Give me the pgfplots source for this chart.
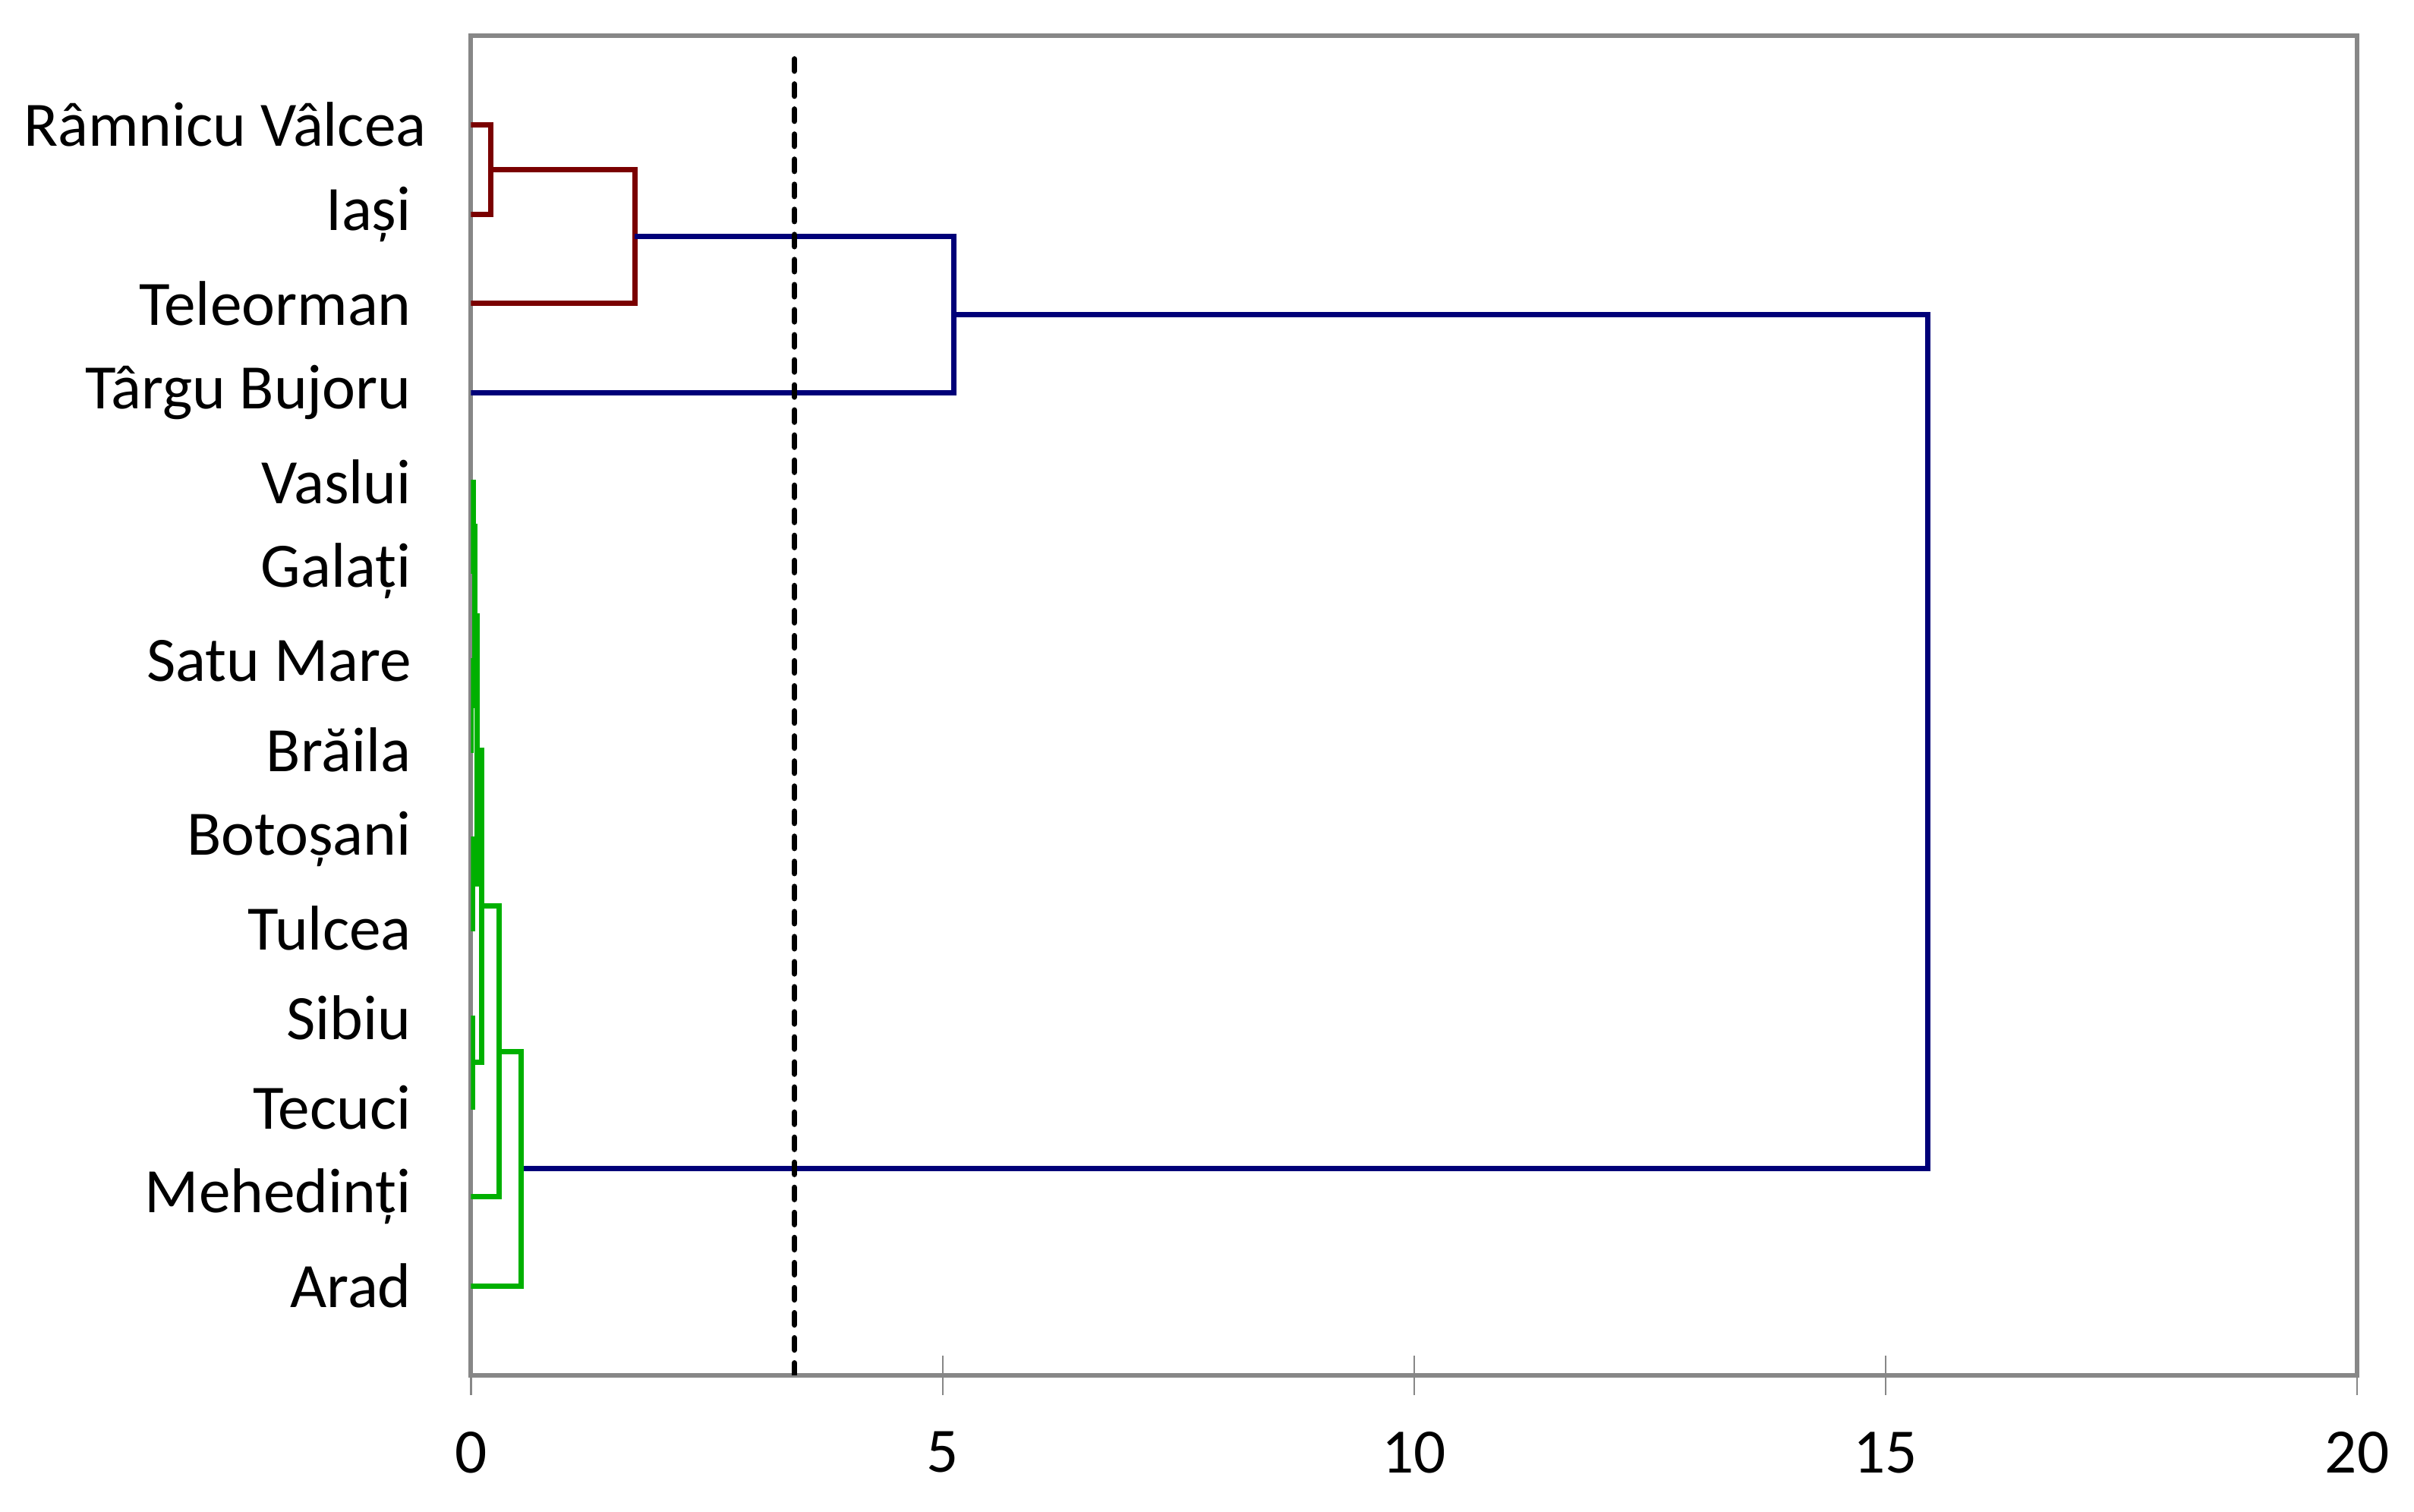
\documentclass[border=0pt]{standalone}
\usepackage{fontspec}
\setmainfont{Carlito}
\usepackage{pgfplots}
\pgfplotsset{compat=1.18}

\definecolor{axgrey}{HTML}{878787}
\definecolor{dred}{HTML}{7A0000}
\definecolor{navy}{HTML}{000078}
\definecolor{lgreen}{HTML}{00B000}

\begin{document}
\begin{tikzpicture}
\begin{axis}[
    scale only axis,
    width=12.4225cm, height=8.825cm,
    xmin=0, xmax=20, ymin=0, ymax=15,
    xtick={0,5,10,15,20},
    ytick={1,...,14},
    yticklabels={Arad,Mehedinți,Tecuci,Sibiu,Tulcea,Botoșani,Brăila,Satu Mare,Galați,Vaslui,Târgu Bujoru,Teleorman,Iași,Râmnicu Vâlcea\kern-0.1cm},
    axis line style={axgrey, line width=0.85pt},
    xtick pos=bottom,
    tick align=center,
    major tick length=0.26cm,
    xtick style={axgrey, line width=0.3pt},
    ytick style={draw=none},
    tick label style={font=\fontsize{11.85}{14}\selectfont},
    /pgf/number format/assume math mode=true,
    xticklabel style={yshift=-0.12cm},
    yticklabel style={xshift=-0.14cm},
    every axis plot/.append style={line width=1pt, line join=miter},
]
% red cluster
\addplot[dred] coordinates {(0,14) (0.213,14) (0.213,13) (0,13)};
\addplot[dred] coordinates {(0.213,13.5) (1.735,13.5) (1.735,12) (0,12)};
% blue links
\addplot[navy] coordinates {(1.735,12.75) (5.12,12.75) (5.12,11) (0,11)};
\addplot[navy] coordinates {(5.12,11.875) (15.45,11.875) (15.45,2.3125) (0.53,2.3125)};
% green cluster
\addplot[lgreen] coordinates {(0,10) (0.022,10) (0.022,9) (0,9)};
\addplot[lgreen] coordinates {(0,8) (0.004,8) (0.004,7) (0,7)};
\addplot[lgreen] coordinates {(0.022,9.5) (0.039,9.5) (0.039,7.5) (0.004,7.5)};
\addplot[lgreen] coordinates {(0,6) (0.02,6) (0.02,5) (0,5)};
\addplot[lgreen] coordinates {(0.039,8.5) (0.062,8.5) (0.062,5.5) (0.02,5.5)};
\addplot[lgreen] coordinates {(0,4) (0.015,4) (0.015,3) (0,3)};
\addplot[lgreen] coordinates {(0.062,7) (0.115,7) (0.115,3.5) (0.015,3.5)};
\addplot[lgreen] coordinates {(0.115,5.25) (0.30,5.25) (0.30,2) (0,2)};
\addplot[lgreen] coordinates {(0.30,3.625) (0.53,3.625) (0.53,1) (0,1)};
% cut line
\addplot[black, line width=1pt, dash pattern=on 2.3pt off 2.4pt, line cap=round] coordinates {(3.43,0) (3.43,14.8)};
\end{axis}
\pgfresetboundingbox
\path ([xshift=-3.1025cm,yshift=-0.9015cm]current axis.south west) rectangle ([xshift=0.375cm,yshift=0.2335cm]current axis.north east);
\end{tikzpicture}
\end{document}
